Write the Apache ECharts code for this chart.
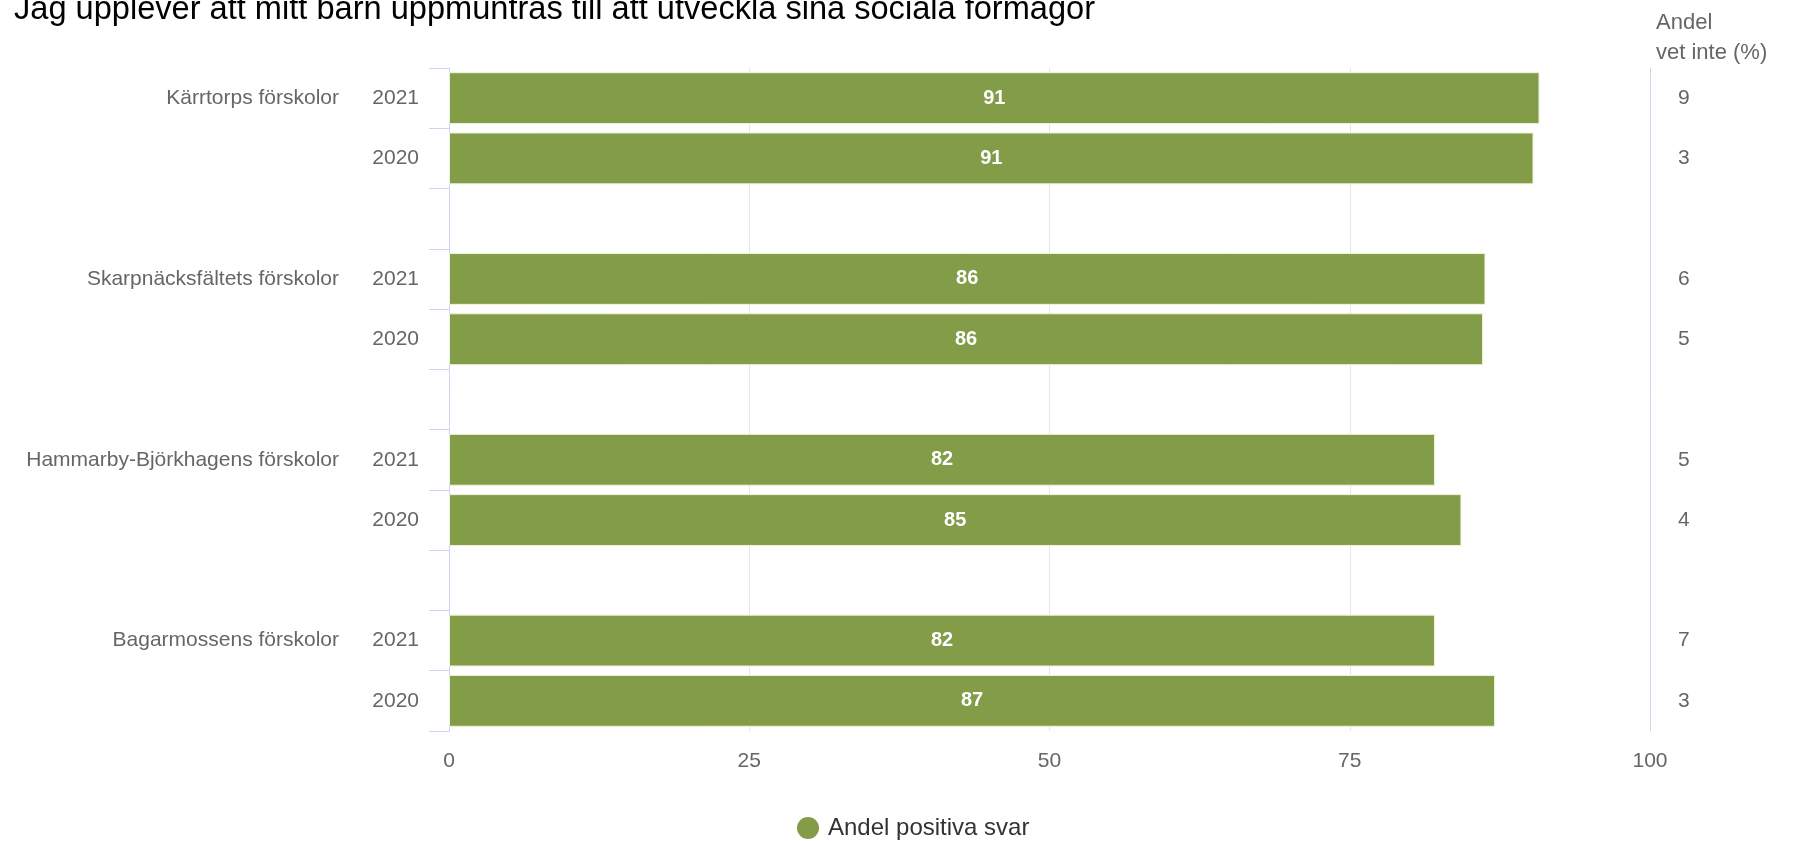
<!DOCTYPE html>
<html>
<head>
<meta charset="utf-8">
<script src="https://cdn.jsdelivr.net/npm/echarts@6/dist/echarts.min.js"></script>
<style>
html,body{margin:0;padding:0;background:#fff;}
#chart{width:1800px;height:841px;}
</style>
</head>
<body>
<div id="chart"></div>
<script>
// ---- data ----
const titleText = 'Jag upplever att mitt barn uppmuntras till att utveckla sina sociala förmågor';
const sideHeader = 'Andel\nvet inte (%)';
const seriesName = 'Andel positiva svar';
const groups = ['Kärrtorps förskolor', 'Skarpnäcksfältets förskolor', 'Hammarby-Björkhagens förskolor', 'Bagarmossens förskolor'];
const years = ['2021', '2020'];
// bar lengths
const positive2021 = [90.8, 86.3, 82.1, 82.1];
const positive2020 = [90.3, 86.1, 84.3, 87.1];
// value labels as printed on the bars
const labels2021 = [91, 86, 82, 82];
const labels2020 = [91, 86, 85, 87];
// share "vet inte" (%)
const vetInte2021 = [9, 6, 5, 7];
const vetInte2020 = [3, 5, 4, 3];
const xTicks = [0, 25, 50, 75, 100];

// ---- build rows (blank row between groups) ----
const yearCats = [], groupCats = [], vetCats = [], barData = [], barLabels = [];
groups.forEach((g, i) => {
  if (i > 0) { yearCats.push(''); groupCats.push(''); vetCats.push(''); barData.push(null); barLabels.push(''); }
  yearCats.push(years[0]); groupCats.push(g); vetCats.push(String(vetInte2021[i])); barData.push(positive2021[i]); barLabels.push(labels2021[i]);
  yearCats.push(years[1]); groupCats.push(''); vetCats.push(String(vetInte2020[i])); barData.push(positive2020[i]); barLabels.push(labels2020[i]);
});

const FONT = '"Liberation Sans", Arial, Helvetica, sans-serif';
const chart = echarts.init(document.getElementById('chart'), null, {renderer: 'canvas'});
chart.setOption({
  animation: false,
  backgroundColor: '#ffffff',
  textStyle: {fontFamily: FONT},
  title: [
    {text: titleText, left: 9, top: -11,
     textStyle: {fontFamily: FONT, fontSize: 32.6, fontWeight: 'normal', color: '#000000'}},
    {text: sideHeader, left: 1651, top: 3,
     textStyle: {fontFamily: FONT, fontSize: 22, fontWeight: 'normal', color: '#666666', lineHeight: 30}}
  ],
  legend: {
    data: [{name: seriesName, icon: 'circle', itemStyle: {borderWidth: 0}}],
    left: 792, top: 811,
    itemWidth: 22, itemHeight: 22,
    textStyle: {fontFamily: FONT, fontSize: 24, color: '#333333', padding: [0, 0, 0, 4]}
  },
  grid: {left: 449, right: 150, top: 68, bottom: 110, containLabel: false},
  xAxis: {
    type: 'value', min: xTicks[0], max: xTicks[xTicks.length - 1], interval: 25,
    axisLine: {show: false}, axisTick: {show: false},
    splitLine: {show: true, lineStyle: {color: '#e6e6e6', width: 1}},
    axisLabel: {fontFamily: FONT, fontSize: 21, color: '#666666', margin: 20,
      formatter: v => xTicks.includes(v) ? String(v) : ''}
  },
  yAxis: [
    {type: 'category', inverse: true, data: yearCats, position: 'left',
     axisLine: {show: true, lineStyle: {color: '#ccd6eb', width: 1}},
     axisTick: {show: true, length: 20, interval: 0, lineStyle: {color: '#ccd6eb', width: 1}},
     axisLabel: {fontFamily: FONT, fontSize: 21, color: '#666666', margin: 30, interval: 0}},
    {type: 'category', inverse: true, data: groupCats, position: 'left', offset: 100,
     axisLine: {show: false}, axisTick: {show: false},
     axisLabel: {fontFamily: FONT, fontSize: 21, color: '#666666', margin: 10, interval: 0}},
    {type: 'category', inverse: true, data: vetCats, position: 'right',
     axisLine: {show: true, lineStyle: {color: '#ccd6eb', width: 1}},
     axisTick: {show: false},
     axisLabel: {fontFamily: FONT, fontSize: 21, color: '#666666', margin: 28, interval: 0, align: 'left'}}
  ],
  series: [{
    name: seriesName, type: 'bar', yAxisIndex: 0, xAxisIndex: 0,
    data: barData, barCategoryGap: '14%',
    itemStyle: {color: '#839c47', borderColor: '#eef2dc', borderWidth: 1},
    label: {show: true, position: 'inside', color: '#ffffff', fontFamily: FONT, fontSize: 20, fontWeight: 'bold',
      formatter: p => String(barLabels[p.dataIndex])},
    emphasis: {disabled: true}
  }]
});
</script>
</body>
</html>
